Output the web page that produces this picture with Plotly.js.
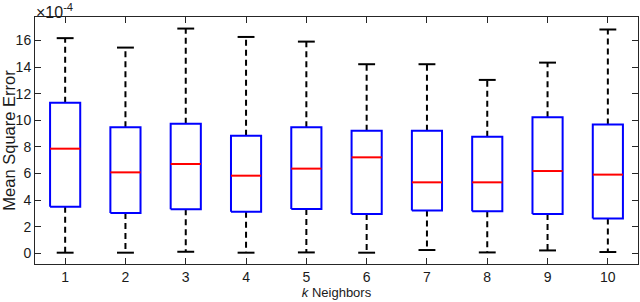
<!DOCTYPE html>
<html>
<head>
<meta charset="utf-8">
<script src="https://cdn.plot.ly/plotly-3.0.1.min.js"></script>
<style>html,body{margin:0;padding:0;background:#fff;}#chart{width:640px;height:302px;}</style>
</head>
<body>
<div id="chart"></div>
<script>
// Values in units of 1e-4
var kValues = [1, 2, 3, 4, 5, 6, 7, 8, 9, 10];
var lowerWhisker = [0.05, 0.05, 0.12, 0.05, 0.07, 0.05, 0.25, 0.07, 0.22, 0.10];
var q1Values     = [3.50, 3.03, 3.31, 3.13, 3.33, 2.96, 3.23, 3.16, 2.96, 2.63];
var medianValues = [7.87, 6.09, 6.72, 5.84, 6.37, 7.22, 5.34, 5.34, 6.19, 5.92];
var q3Values     = [11.33, 9.48, 9.75, 8.85, 9.48, 9.22, 9.22, 8.77, 10.23, 9.68];
var upperWhisker = [16.18, 15.47, 16.90, 16.27, 15.92, 14.22, 14.22, 13.04, 14.34, 16.83];
var yTicks = [0, 2, 4, 6, 8, 10, 12, 14, 16];

var boxHalf = 0.25, capHalf = 0.14;
var bx = [], by = [], mx = [], my = [], wx = [], wy = [], cx = [], cy = [];
for (var i = 0; i < kValues.length; i++) {
  var k = kValues[i];
  bx.push(k - boxHalf, k + boxHalf, k + boxHalf, k - boxHalf, k - boxHalf, null);
  by.push(q1Values[i], q1Values[i], q3Values[i], q3Values[i], q1Values[i], null);
  mx.push(k - boxHalf, k + boxHalf, null);
  my.push(medianValues[i], medianValues[i], null);
  wx.push(k, k, null, k, k, null);
  wy.push(q3Values[i], upperWhisker[i], null, q1Values[i], lowerWhisker[i], null);
  cx.push(k - capHalf, k + capHalf, null, k - capHalf, k + capHalf, null);
  cy.push(upperWhisker[i], upperWhisker[i], null, lowerWhisker[i], lowerWhisker[i], null);
}

var traces = [
  {x: wx, y: wy, mode: 'lines', line: {color: '#000', width: 2, dash: '6px,4px'}, hoverinfo: 'skip'},
  {x: cx, y: cy, mode: 'lines', line: {color: '#000', width: 2}, hoverinfo: 'skip'},
  {x: bx, y: by, mode: 'lines', line: {color: '#0000FF', width: 2}, hoverinfo: 'skip'},
  {x: mx, y: my, mode: 'lines', line: {color: '#FF0000', width: 2}, hoverinfo: 'skip'}
];

var fam = 'Liberation Sans, Arial, Helvetica, sans-serif';
var tickFont = {family: fam, size: 14, color: '#1a1a1a'};
var xTitleFont = {family: fam, size: 13, color: '#1a1a1a'};
var yTitleFont = {family: fam, size: 16.5, color: '#1a1a1a'};
var layout = {
  width: 640, height: 302,
  margin: {l: 35, r: 2, t: 17, b: 38},
  showlegend: false,
  paper_bgcolor: '#fff', plot_bgcolor: '#fff',
  font: tickFont,
  xaxis: {
    range: [0.5, 10.5], tickvals: kValues, ticktext: kValues.map(String),
    showgrid: false, zeroline: false, showline: true, mirror: 'allticks',
    linecolor: '#262626', linewidth: 1, ticks: 'inside', ticklen: 6, tickcolor: '#262626',
    tickfont: tickFont,
    title: {text: '<i>k</i> Neighbors', font: xTitleFont, standoff: 1}
  },
  yaxis: {
    range: [-0.8, 17.77], tickvals: yTicks, ticktext: yTicks.map(String),
    showgrid: false, zeroline: false, showline: true, mirror: 'allticks',
    linecolor: '#262626', linewidth: 1, ticks: 'inside', ticklen: 6, tickcolor: '#262626',
    tickfont: tickFont,
    title: {text: 'Mean Square Error', font: yTitleFont, standoff: 1}
  },
  annotations: [{
    text: '×10<sup>-4</sup>', xref: 'paper', yref: 'paper', x: 0, y: 1,
    xanchor: 'left', yanchor: 'bottom', showarrow: false,
    font: {family: fam, size: 16, color: '#1a1a1a'}, yshift: -6, xshift: -1
  }]
};

Plotly.newPlot('chart', traces, layout, {staticPlot: true, displayModeBar: false});
</script>
</body>
</html>
